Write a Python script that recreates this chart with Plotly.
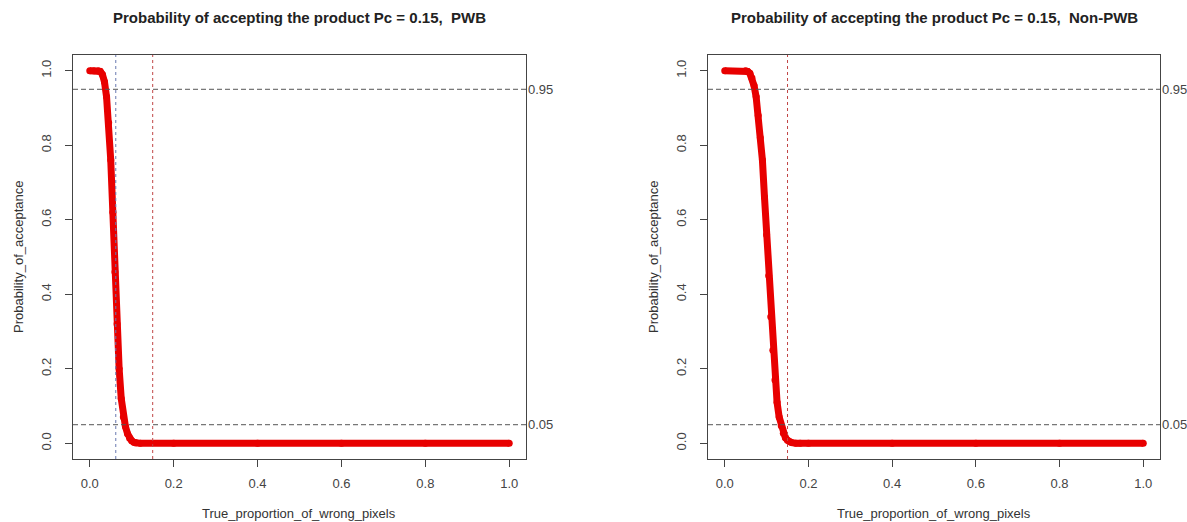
import plotly.graph_objects as go

# ---- data ----
pwb_x = [0.0, 0.01, 0.02, 0.025, 0.03, 0.035, 0.04, 0.045, 0.05, 0.055, 0.06, 0.065,
         0.07, 0.075, 0.08, 0.085, 0.09, 0.095, 0.10, 0.105, 0.11, 0.12, 0.2, 0.4, 0.6, 0.8, 1.0]
pwb_y = [1.0, 1.0, 1.0, 0.998, 0.99, 0.97, 0.93, 0.86, 0.76, 0.62, 0.46, 0.32,
         0.20, 0.12, 0.071, 0.045, 0.026, 0.014, 0.007, 0.003, 0.001, 0.0, 0.0, 0.0, 0.0, 0.0, 0.0]

npwb_x = [0.0, 0.05, 0.055, 0.06, 0.065, 0.07, 0.075, 0.08, 0.085, 0.09, 0.095, 0.10,
          0.105, 0.11, 0.115, 0.12, 0.125, 0.13, 0.135, 0.14, 0.145, 0.15, 0.155, 0.16,
          0.17, 0.18, 0.2, 0.4, 0.6, 0.8, 1.0]
npwb_y = [1.0, 1.0, 0.998, 0.993, 0.98, 0.96, 0.93, 0.88, 0.82, 0.76, 0.66, 0.56,
          0.45, 0.34, 0.25, 0.17, 0.11, 0.071, 0.047, 0.027, 0.015, 0.008, 0.004, 0.002,
          0.0005, 0.0, 0.0, 0.0, 0.0, 0.0, 0.0]

risk_levels = [0.05, 0.95]
risk_labels = ["0.05", "0.95"]
pc_value = 0.15
pwb_limit = 0.062

titles = ["Probability of accepting the product Pc = 0.15,  PWB",
          "Probability of accepting the product Pc = 0.15,  Non-PWB"]
x_title = "True_proportion_of_wrong_pixels"
y_title = "Probability_of_acceptance"
tick_vals = [0.0, 0.2, 0.4, 0.6, 0.8, 1.0]
tick_text = ["0.0", "0.2", "0.4", "0.6", "0.8", "1.0"]

FONT = "Liberation Sans, Arial, sans-serif"
W, H = 1187, 522


def px(xp):
    return xp / W


def py(yp):
    return 1 - yp / H


x_domains = [[px(73), px(526)], [px(708), px(1160)]]
y_domain = [py(459), py(55)]

fig = go.Figure()
series = [(pwb_x, pwb_y), (npwb_x, npwb_y)]
for i, (xs, ys) in enumerate(series):
    sx = "" if i == 0 else "2"
    fig.add_trace(go.Scatter(
        x=xs, y=ys, mode="lines+markers", xaxis="x" + sx, yaxis="y" + sx,
        line=dict(color="#e80000", width=7),
        marker=dict(color="#e80000", size=7),
        showlegend=False, hoverinfo="skip"))

axis_common = dict(
    showline=True, mirror=True, linecolor="#444", linewidth=1,
    ticks="outside", ticklen=7, tickcolor="#444", tickwidth=1,
    showgrid=False, zeroline=False,
    tickfont=dict(family=FONT, size=13, color="#444"),
    tickvals=tick_vals, ticktext=tick_text,
)

layout = dict(
    width=W, height=H, margin=dict(l=0, r=0, t=0, b=0),
    paper_bgcolor="white", plot_bgcolor="white", showlegend=False,
    shapes=[], annotations=[],
)
for i in range(2):
    sx = "" if i == 0 else "2"
    layout["xaxis" + sx] = dict(axis_common, domain=x_domains[i], range=[-0.04, 1.04],
                                anchor="y" + sx, ticklabelstandoff=5)
    layout["yaxis" + sx] = dict(axis_common, domain=y_domain, range=[-0.042, 1.042],
                                anchor="x" + sx, tickangle=-90, ticklabelstandoff=9)
    xr = "x" + sx
    yr = "y" + sx
    for lv, lb in zip(risk_levels, risk_labels):
        layout["shapes"].append(dict(type="line", xref=xr + " domain", x0=0, x1=1,
                                     yref=yr, y0=lv, y1=lv,
                                     line=dict(color="#555", width=1, dash="5px,3px")))
        layout["annotations"].append(dict(xref=xr + " domain", x=1.0, xanchor="left",
                                          yref=yr, y=lv, yanchor="middle", xshift=0,
                                          text=lb, showarrow=False,
                                          font=dict(family=FONT, size=13, color="#444")))
    layout["shapes"].append(dict(type="line", xref=xr, x0=pc_value, x1=pc_value,
                                 yref=yr + " domain", y0=0, y1=1,
                                 line=dict(color="#c04545", width=1, dash="3px,3px")))
    if i == 0:
        layout["shapes"].append(dict(type="line", xref=xr, x0=pwb_limit, x1=pwb_limit,
                                     yref=yr + " domain", y0=0, y1=1,
                                     line=dict(color="#6878b0", width=1, dash="dot")))
    cx = (x_domains[i][0] + x_domains[i][1]) / 2
    layout["annotations"].append(dict(xref="paper", yref="paper", x=cx, y=py(17),
                                      xanchor="center", yanchor="middle",
                                      text="<b>" + titles[i] + "</b>", showarrow=False,
                                      font=dict(family=FONT, size=15, color="#222")))
    layout["annotations"].append(dict(xref="paper", yref="paper", x=cx, y=py(513),
                                      xanchor="center", yanchor="middle",
                                      text=x_title, showarrow=False,
                                      font=dict(family=FONT, size=13, color="#333")))
    layout["annotations"].append(dict(xref="paper", yref="paper",
                                      x=px(x_domains[i][0] * W - 54),
                                      y=(y_domain[0] + y_domain[1]) / 2,
                                      xanchor="center", yanchor="middle", textangle=-90,
                                      text=y_title, showarrow=False,
                                      font=dict(family=FONT, size=13, color="#333")))

fig.update_layout(**layout)
fig.write_html("out.html", config={"displayModeBar": False},
               post_script="document.body.style.margin='0';document.body.style.overflow='hidden';")
